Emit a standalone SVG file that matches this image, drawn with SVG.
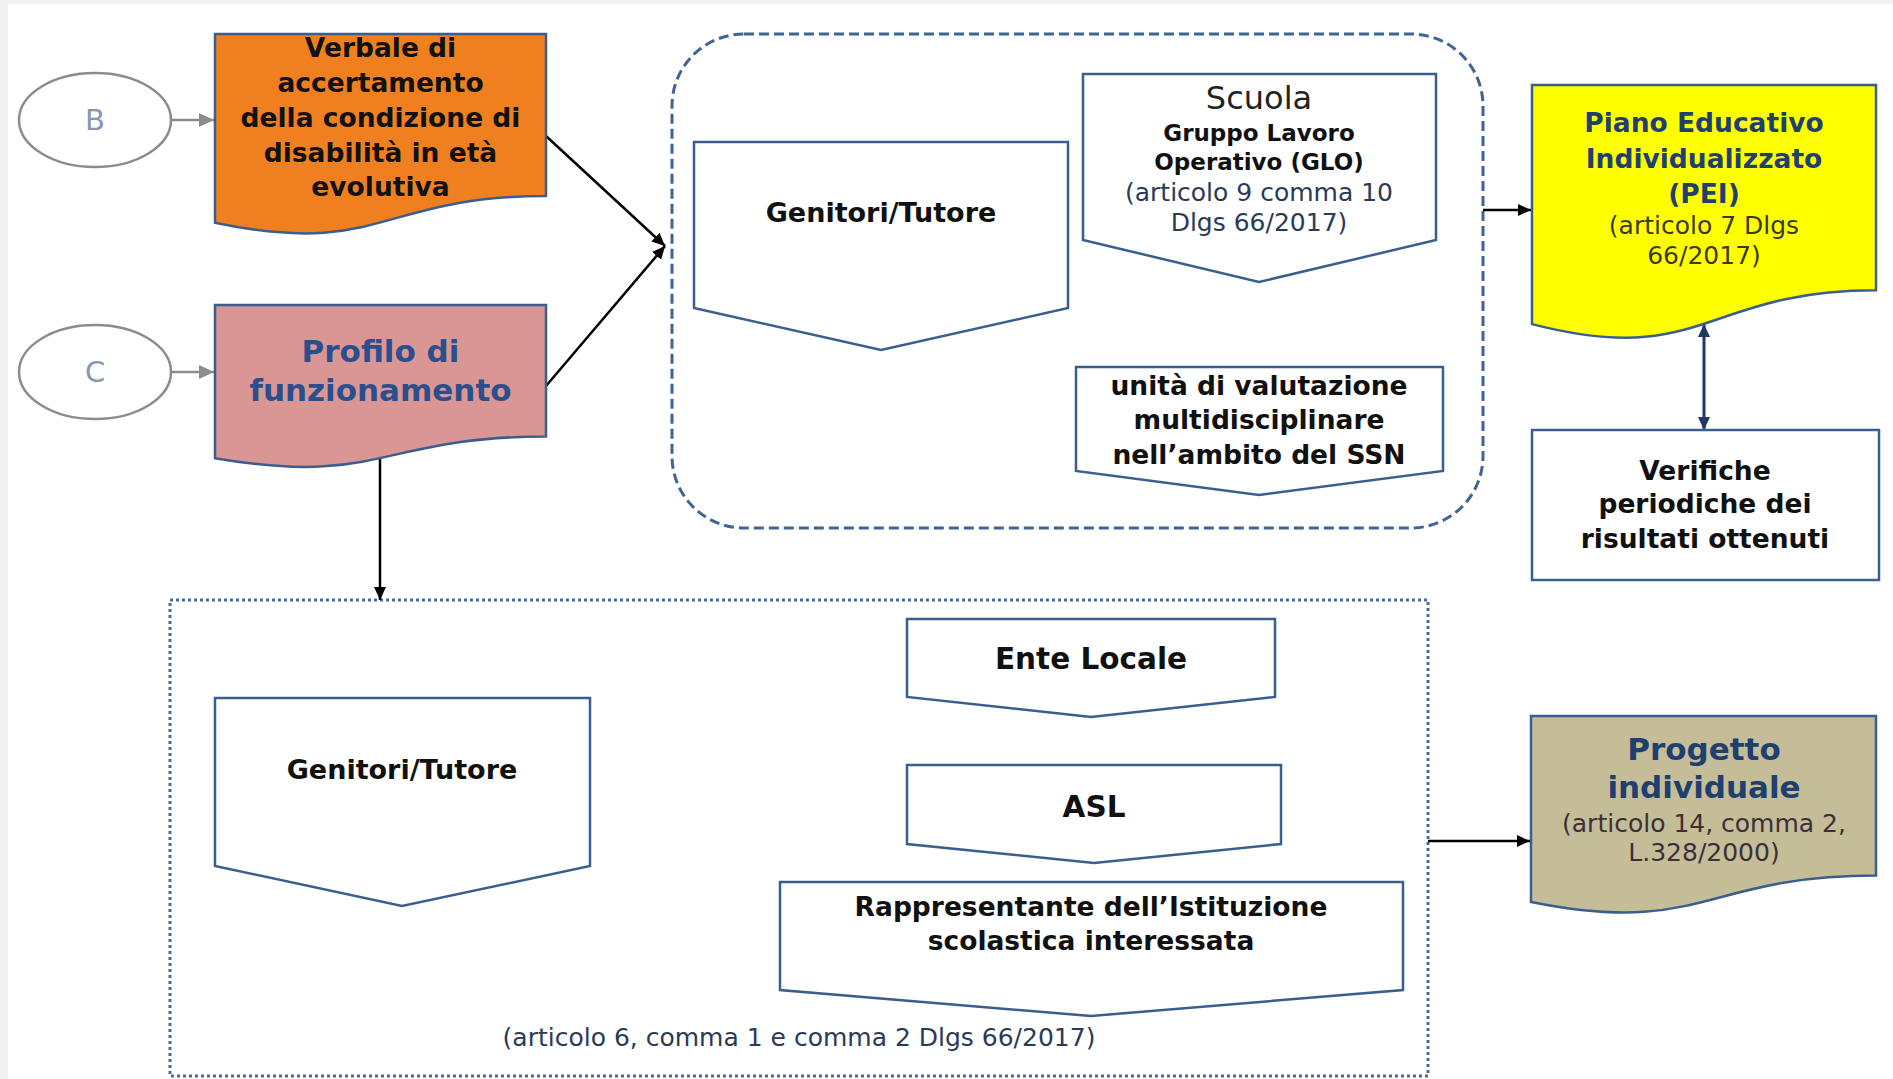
<svg xmlns="http://www.w3.org/2000/svg" width="1893" height="1079" viewBox="0 0 1893 1079">
<defs>
<marker id="arrBlack" markerUnits="userSpaceOnUse" markerWidth="14" markerHeight="12" refX="13" refY="6" orient="auto"><path d="M0,0 L13,6 L0,12 Z" fill="#000"/></marker>
<marker id="arrGray" markerUnits="userSpaceOnUse" markerWidth="16" markerHeight="14" refX="15" refY="7" orient="auto"><path d="M0,0 L15,7 L0,14 Z" fill="#8c8c8c"/></marker>
<marker id="arrNavy" markerUnits="userSpaceOnUse" markerWidth="14" markerHeight="12" refX="13" refY="6" orient="auto-start-reverse"><path d="M0,0 L13,6 L0,12 Z" fill="#1f3864"/></marker>
</defs>
<style>
.node{stroke:#3a5f8f;stroke-width:2.5;}
.white{fill:#fff;}
text{font-family:"DejaVu Sans","Liberation Sans",sans-serif;text-anchor:middle;dominant-baseline:central;}
.b{font-weight:bold;font-size:26.5px;fill:#111;}
.r{font-size:25px;}
.cite{fill:#2b3a55;}
.title{font-weight:bold;font-size:31px;}
.conn{stroke:#000;stroke-width:2.5;fill:none;}
</style>
<rect x="0" y="0" width="1893" height="1079" fill="#fff"/>
<rect x="0" y="0" width="8" height="1079" fill="#f1f1f1"/>
<rect x="0" y="0" width="1893" height="4" fill="#f1f1f1"/>

<g id="containers">
<rect id="glo-group" x="672" y="34" width="811" height="494" rx="72" ry="72" fill="none" stroke="#3f6496" stroke-width="3" stroke-dasharray="10 5"/>
<rect id="progetto-group" x="170" y="600" width="1258" height="476" fill="none" stroke="#4a6b9a" stroke-width="3" stroke-dasharray="3 3"/>
</g>

<g id="connectors">
<line x1="171" y1="120" x2="214" y2="120" stroke="#8c8c8c" stroke-width="2.5" marker-end="url(#arrGray)"/>
<line x1="171" y1="372" x2="214" y2="372" stroke="#8c8c8c" stroke-width="2.5" marker-end="url(#arrGray)"/>
<path class="conn" d="M546,136 L665,246" marker-end="url(#arrBlack)"/>
<path class="conn" d="M546,386 L665,246" marker-end="url(#arrBlack)"/>
<path class="conn" d="M1483,210 L1531,210" marker-end="url(#arrBlack)"/>
<path d="M1704,324 L1704,430" stroke="#1f3864" stroke-width="3" fill="none" marker-start="url(#arrNavy)" marker-end="url(#arrNavy)"/>
<path class="conn" d="M380,458 L380,600" marker-end="url(#arrBlack)"/>
<path class="conn" d="M1428,841 L1530,841" marker-end="url(#arrBlack)"/>
</g>

<g id="node-B">
<ellipse cx="95" cy="120" rx="76" ry="47" fill="#fff" stroke="#8c8c8c" stroke-width="2.5"/>
<text x="95" y="120" style="font-size:29px;fill:#8496b0;">B</text>
</g>
<g id="node-C">
<ellipse cx="95" cy="372" rx="76" ry="47" fill="#fff" stroke="#8c8c8c" stroke-width="2.5"/>
<text x="95" y="372" style="font-size:29px;fill:#8496b0;">C</text>
</g>

<g id="node-verbale">
<path class="node" fill="#f0801f" d="M215,34 H546 V196 C380.5,196 380.5,257.7 215,222.7 Z"/>
<text class="b" x="380.5" y="47">Verbale di</text>
<text class="b" x="380.5" y="82">accertamento</text>
<text class="b" x="380.5" y="117">della condizione di</text>
<text class="b" x="380.5" y="152">disabilità in età</text>
<text class="b" x="380.5" y="186">evolutiva</text>
</g>

<g id="node-profilo">
<path class="node" fill="#d99694" d="M215,305 H546 V436.5 C380.5,436.5 380.5,486.6 215,458.2 Z"/>
<text class="title" x="380.5" y="351" fill="#2b4f8c">Profilo di</text>
<text class="title" x="380.5" y="390" fill="#2b4f8c">funzionamento</text>
</g>

<g id="node-genitori-1">
<path class="node white" d="M694,142 H1068 V308 L881,350 L694,308 Z"/>
<text class="b" x="881" y="212" style="font-size:27px;">Genitori/Tutore</text>
</g>

<g id="node-scuola">
<path class="node white" d="M1083,74 H1436 V240 L1259,282 L1083,240 Z"/>
<text x="1259" y="98" style="font-size:32px;fill:#222;">Scuola</text>
<text class="b" x="1259" y="133" style="font-size:23px;">Gruppo Lavoro</text>
<text class="b" x="1259" y="162" style="font-size:23px;">Operativo (GLO)</text>
<text class="r cite" x="1259" y="192">(articolo 9 comma 10</text>
<text class="r cite" x="1259" y="222">Dlgs 66/2017)</text>
</g>

<g id="node-unita">
<path class="node white" d="M1076,367 H1443 V471 L1259,495 L1076,471 Z"/>
<text class="b" x="1259" y="385">unità di valutazione</text>
<text class="b" x="1259" y="419">multidisciplinare</text>
<text class="b" x="1259" y="454">nell’ambito del SSN</text>
</g>

<g id="node-pei">
<path class="node" fill="#ffff00" d="M1532,85 H1876 V290.3 C1704,290.3 1704,368.5 1532,324.1 Z"/>
<text class="b" x="1704" y="122" fill="#1f3f6f" style="fill:#1f3f6f;">Piano Educativo</text>
<text class="b" x="1704" y="158" style="fill:#1f3f6f;">Individualizzato</text>
<text class="b" x="1704" y="193" style="fill:#1f3f6f;">(PEI)</text>
<text class="r" x="1704" y="225" fill="#3a3a20">(articolo 7 Dlgs</text>
<text class="r" x="1704" y="255" fill="#3a3a20">66/2017)</text>
</g>

<g id="node-verifiche">
<rect class="node white" x="1532" y="430" width="347" height="150"/>
<text class="b" x="1705" y="470">Verifiche</text>
<text class="b" x="1705" y="503">periodiche dei</text>
<text class="b" x="1705" y="538">risultati ottenuti</text>
</g>

<g id="node-genitori-2">
<path class="node white" d="M215,698 H590 V866 L402,906 L215,866 Z"/>
<text class="b" x="402" y="769" style="font-size:27px;">Genitori/Tutore</text>
</g>

<g id="node-ente">
<path class="node white" d="M907,619 H1275 V697 L1091,717 L907,697 Z"/>
<text class="b" x="1091" y="659" style="font-size:29.5px;">Ente Locale</text>
</g>

<g id="node-asl">
<path class="node white" d="M907,765 H1281 V844 L1094,863 L907,844 Z"/>
<text class="b" x="1094" y="807" style="font-size:29.5px;">ASL</text>
</g>

<g id="node-rappresentante">
<path class="node white" d="M780,882 H1403 V990 L1091,1016 L780,990 Z"/>
<text class="b" x="1091" y="906">Rappresentante dell’Istituzione</text>
<text class="b" x="1091" y="940">scolastica interessata</text>
</g>

<g id="note">
<text class="r cite" x="799" y="1037">(articolo 6, comma 1 e comma 2 Dlgs 66/2017)</text>
</g>

<g id="node-progetto">
<path class="node" fill="#c4bd97" d="M1531,716 H1876 V875.6 C1703.5,875.6 1703.5,936.4 1531,901.9 Z"/>
<text class="title" x="1704" y="749" fill="#1f3f6f">Progetto</text>
<text class="title" x="1704" y="787" fill="#1f3f6f">individuale</text>
<text class="r" x="1704" y="823" fill="#3d2f3a">(articolo 14, comma 2,</text>
<text class="r" x="1704" y="852" fill="#3d2f3a">L.328/2000)</text>
</g>
</svg>
